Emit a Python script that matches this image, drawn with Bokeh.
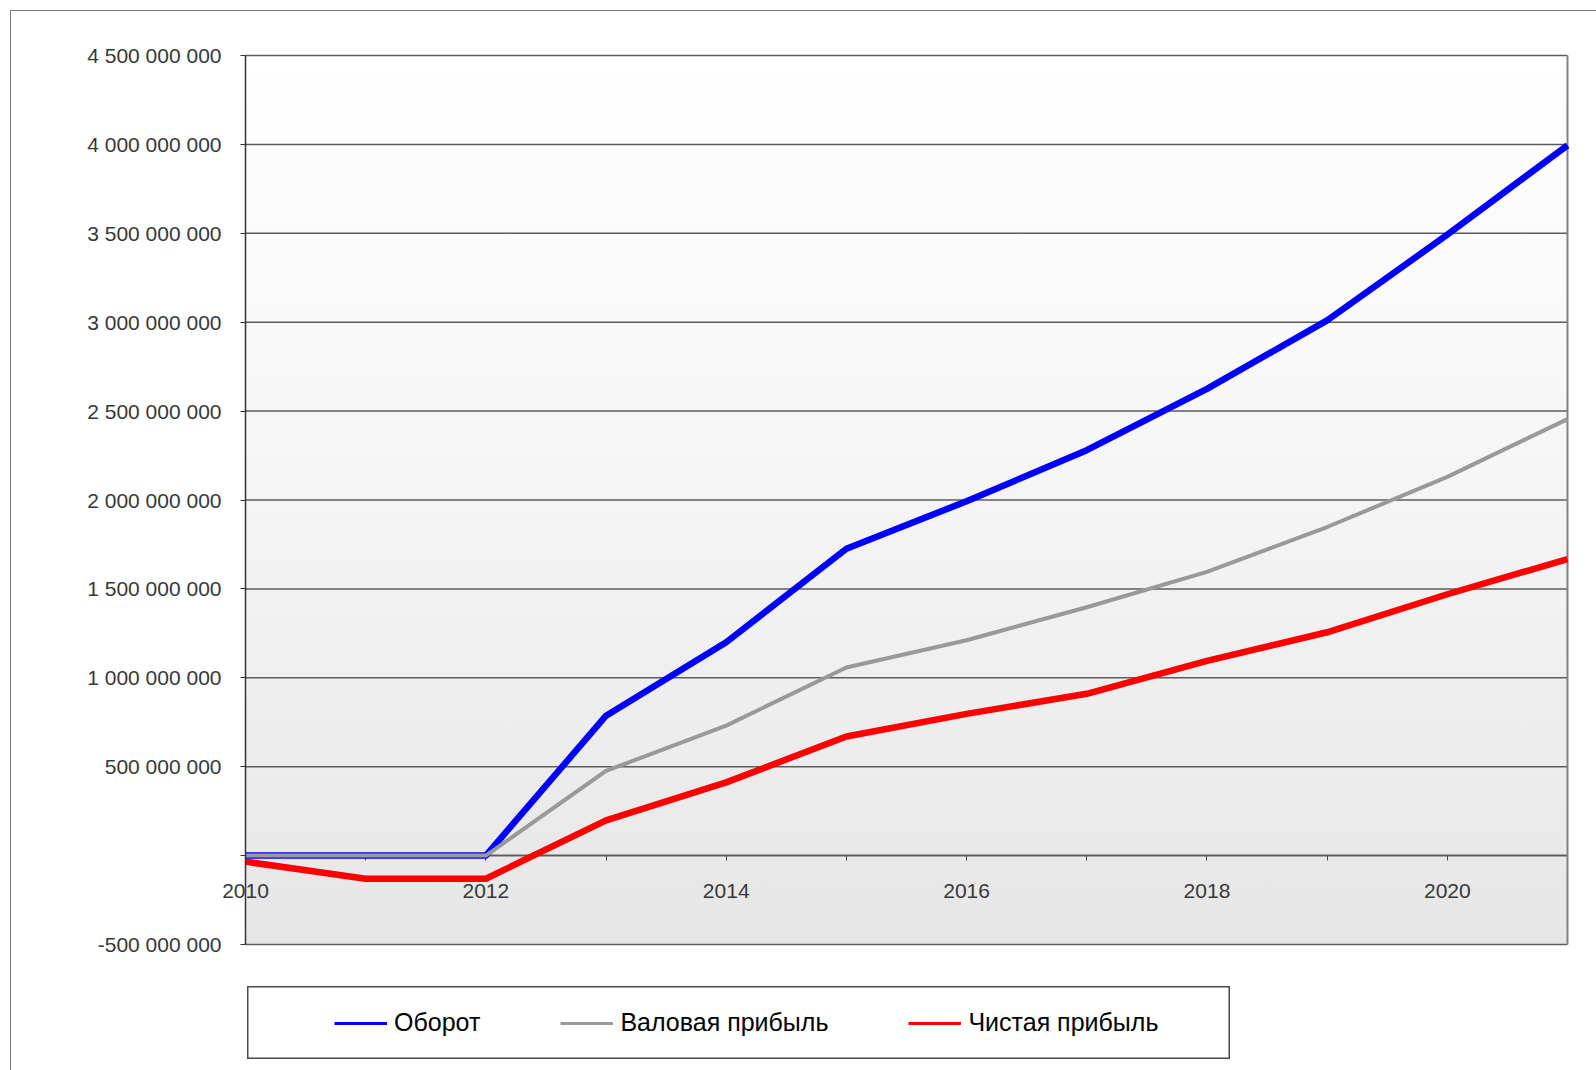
from bokeh.plotting import figure
from bokeh.layouts import column, row
from bokeh.models import (FixedTicker, Range1d, Legend, LegendItem, Spacer)
from bokeh.embed import file_html
from bokeh.resources import INLINE

# Годы и показатели (руб.)
years = [2010, 2011, 2012, 2013, 2014, 2015, 2016, 2017, 2018, 2019, 2020, 2021]
turnover = [0, 0, 0, 787e6, 1200e6, 1726e6, 1993e6, 2280e6, 2625e6, 3010e6, 3492e6, 3995e6]
gross_profit = [0, 0, 0, 476e6, 731e6, 1058e6, 1211e6, 1397e6, 1596e6, 1848e6, 2130e6, 2455e6]
net_profit = [-34e6, -130e6, -130e6, 198e6, 412e6, 670e6, 797e6, 910e6, 1095e6, 1256e6, 1470e6, 1668e6]

series_names = ["Оборот", "Валовая прибыль", "Чистая прибыль"]
series_values = [turnover, gross_profit, net_profit]

x_tick_labels = ["2010", "", "2012", "", "2014", "", "2016", "", "2018", "", "2020", ""]
y_ticks = [-500000000, 0, 500000000, 1000000000, 1500000000, 2000000000,
           2500000000, 3000000000, 3500000000, 4000000000, 4500000000]
y_tick_labels = ["-500 000 000", "", "500 000 000", "1 000 000 000", "1 500 000 000",
                 "2 000 000 000", "2 500 000 000", "3 000 000 000", "3 500 000 000",
                 "4 000 000 000", "4 500 000 000"]

FONT = "Liberation Sans"
colors = ["#0000ff", "#999999", "#ff0000"]
widths = [6.5, 4, 6.5]

# canvas geometry (px). The frame is larger than the plotted box so that the value
# axis, its end labels and the first year label are drawn inside it unclipped.
P_WIDTH, P_HEIGHT = 1585, 964
BORDER_L, BORDER_R, BORDER_T, BORDER_B = 29, 20, 14, 10
PLOT_LEFT, PLOT_RIGHT = 234, 1556      # box edges measured from the canvas corner
PLOT_TOP, PLOT_BOTTOM = 44, 933

frame_right = P_WIDTH - BORDER_R
frame_bottom = P_HEIGHT - BORDER_B
yrs_per_px = (years[-1] - years[0]) / (PLOT_RIGHT - PLOT_LEFT)
x_start = years[0] - (PLOT_LEFT - BORDER_L) * yrs_per_px
x_end = years[-1] + (frame_right - PLOT_RIGHT) * yrs_per_px
val_per_px = (y_ticks[-1] - y_ticks[0]) / (PLOT_BOTTOM - PLOT_TOP)
y_end = y_ticks[-1] + (PLOT_TOP - BORDER_T) * val_per_px
y_start = y_ticks[0] - (frame_bottom - PLOT_BOTTOM) * val_per_px

p = figure(width=P_WIDTH, height=P_HEIGHT, output_backend="svg", toolbar_location=None,
           x_range=Range1d(x_start, x_end), y_range=Range1d(y_start, y_end),
           min_border_left=BORDER_L, min_border_right=BORDER_R,
           min_border_top=BORDER_T, min_border_bottom=BORDER_B)

# plotted box: light vertical gradient behind a transparent canvas
p.background_fill_alpha = 0
p.border_fill_alpha = 0
p.outline_line_color = None
p.styles = {
    "background-image": "linear-gradient(to bottom, #ffffff 0%, #f6f6f6 45%, #e6e6e6 100%)",
    "background-repeat": "no-repeat",
    "background-position": f"{PLOT_LEFT}px {PLOT_TOP}px",
    "background-size": f"{PLOT_RIGHT - PLOT_LEFT}px {PLOT_BOTTOM - PLOT_TOP}px",
}
p.xgrid.visible = False
p.ygrid.visible = False

# horizontal grid lines across the box (the outer two close it) and its right edge
n = len(y_ticks)
p.segment(x0=[years[0]] * n, x1=[years[-1]] * n, y0=y_ticks, y1=y_ticks,
          line_color="#5c5c5c", line_width=1.5)
p.segment(x0=[years[-1]], x1=[years[-1]], y0=[y_ticks[0]], y1=[y_ticks[-1]],
          line_color="#808080", line_width=2)

# value axis at the first year
p.yaxis.fixed_location = years[0]
p.yaxis.bounds = (y_ticks[0], y_ticks[-1])
p.yaxis.ticker = FixedTicker(ticks=y_ticks)
p.yaxis.major_label_overrides = dict(zip(y_ticks, y_tick_labels))
p.yaxis.axis_line_color = "#333333"
p.yaxis.axis_line_width = 1.5
p.yaxis.major_tick_line_color = "#333333"
p.yaxis.major_tick_out = 5
p.yaxis.major_tick_in = 0
p.yaxis.minor_tick_line_color = None
p.yaxis.major_label_standoff = 19
p.yaxis.major_label_text_font = FONT
p.yaxis.major_label_text_font_size = "21px"
p.yaxis.major_label_text_color = "#383838"

# year axis crossing at zero, drawn beneath the series
p.xaxis.fixed_location = 0
p.xaxis.level = "underlay"
p.xaxis.bounds = (years[0], years[-1])
p.xaxis.ticker = FixedTicker(ticks=years)
p.xaxis.major_label_overrides = dict(zip(years, x_tick_labels))
p.xaxis.axis_line_color = "#404040"
p.xaxis.axis_line_width = 1.5
p.xaxis.major_tick_line_color = "#404040"
p.xaxis.major_tick_out = 5
p.xaxis.major_tick_in = 0
p.xaxis.minor_tick_line_color = None
p.xaxis.major_label_standoff = 23
p.xaxis.major_label_text_font = FONT
p.xaxis.major_label_text_font_size = "21px"
p.xaxis.major_label_text_color = "#383838"

for vals, col, w in zip(series_values, colors, widths):
    p.line(years, vals, line_color=col, line_width=w, line_join="round")

# legend panel below the chart; its ranges sit away from the data so only the key shows
lg = figure(width=983, height=73, output_backend="svg", toolbar_location=None, min_border=0,
            x_range=Range1d(0, 1), y_range=Range1d(0, 1))
lg.axis.visible = False
lg.grid.visible = False
lg.outline_line_color = "#4a4a4a"
lg.outline_line_width = 2
lg.background_fill_color = "white"
lg.border_fill_color = "white"

items = []
for name, vals, col in zip(series_names, series_values, colors):
    r = lg.line(years, vals, line_color=col, line_width=3)
    items.append(LegendItem(label=name, renderers=[r]))

legend = Legend(items=items, location=(87, 22), orientation="horizontal",
                border_line_alpha=0, background_fill_alpha=0, padding=0, margin=0,
                glyph_width=53, label_standoff=7, spacing=80,
                label_text_font=FONT, label_text_font_size="25px", label_text_color="#000000")
lg.add_layout(legend, "center")

layout = column(
    p,
    Spacer(width=10, height=11),
    row(Spacer(width=236, height=73), lg),
    Spacer(width=10, height=20),
    margin=(10, 0, 0, 10),
    styles={"border-top": "1px solid #7a7a7a", "border-left": "1px solid #7a7a7a"},
)

open("out.html", "w").write(file_html(layout, INLINE))
